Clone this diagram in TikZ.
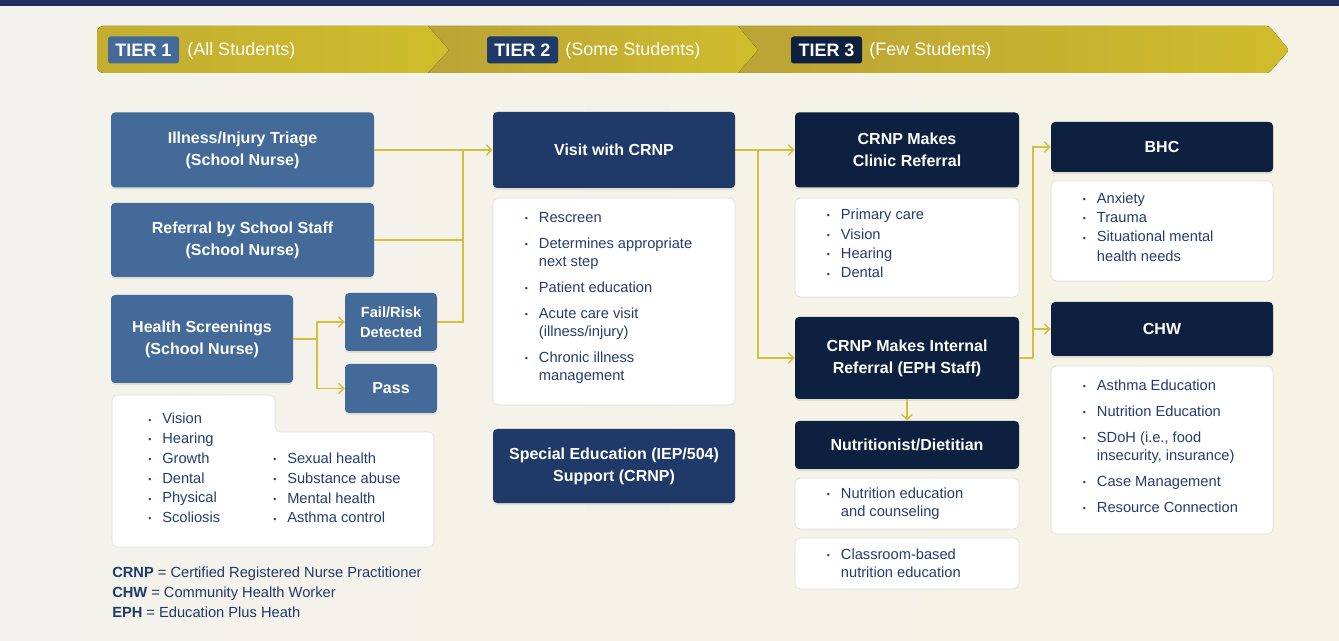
\documentclass[tikz,border=0pt]{standalone}
\usepackage{fontspec}
\usepackage{graphicx}
\setmainfont{Liberation Sans}
\usetikzlibrary{arrows.meta,shadows}

\newdimen\px \px=0.75pt

\definecolor{pagebg}{HTML}{F3F2EC}
\definecolor{pagebgR}{HTML}{F6F3E4}
\definecolor{topbar}{HTML}{1F2F5F}
\definecolor{goldL}{HTML}{D0BD2B}
\definecolor{goldD}{HTML}{BBA336}
\definecolor{goldline}{HTML}{D5C03D}
\definecolor{steel}{HTML}{436A99}
\definecolor{navytwo}{HTML}{1F3A69}
\definecolor{navythree}{HTML}{0D2040}
\definecolor{listblue}{HTML}{253D6E}
\definecolor{edgegray}{HTML}{E0DFDA}

\newcommand{\titlefont}{\fontsize{12}{16.5}\selectfont\bfseries}
\newcommand{\listfont}{\fontsize{11}{14.6}\selectfont}
\newcommand{\spacedfont}{\fontsize{11}{13.5}\selectfont}
\newcommand{\dotitem}{\makebox[14\px][l]{\raisebox{0.1ex}{\scalebox{0.6}{\textbullet}}}}
\newcommand{\hangon}{\hspace*{14\px}}

\begin{document}
\begin{tikzpicture}[
		x=0.75pt, y=-0.75pt,
		boxsize/.style 2 args = {
			minimum width  = #1\px,
			minimum height = #2\px
		},
		shade/.style = {
			drop shadow = {shadow xshift=0pt, shadow yshift=-1.5pt, opacity=0.18}
		},
		headbox/.style = {
			rounded corners = 3pt,
			text = white,
			font = \titlefont,
			align = center,
			inner sep = 0pt,
			shade
		},
		steelbox/.style = {headbox, fill=steel},
		navybox/.style  = {headbox, fill=navytwo},
		darkbox/.style  = {headbox, fill=navythree},
		listbox/.style = {
			fill = white,
			draw = edgegray,
			line width = 0.5pt,
			rounded corners = 4pt,
			inner sep = 0pt
		},
		listtext/.style = {
			text = listblue,
			font = \listfont,
			align = left,
			inner sep = 0pt,
			anchor = west
		},
		raised/.style = {yshift = 4\px},
		tierbadge/.style = {
			rounded corners = 2pt,
			text = white,
			font = \fontsize{13.5}{16}\selectfont\bfseries,
			boxsize = {71}{27},
			inner sep = 0pt
		},
		tiertext/.style = {
			text = white,
			font = \fontsize{13.5}{16}\selectfont,
			anchor = west,
			inner sep = 0pt
		},
		link/.style = {draw=goldline, line width=1.1pt},
		arr/.style  = {link, -{Straight Barb[length=4pt,width=8pt]}}
	]
	\useasboundingbox (0,0) rectangle (1339,641);
	\fill[left color=pagebg, right color=pagebgR] (0,0) rectangle (1339,641);
	\fill[topbar] (0,0) rectangle (1339,6);

	% tier banner
	\fill[left color=goldD, right color=goldL, rounded corners=2pt]
		(738,26) -- (1269,26) -- (1289,50) -- (1269,73) -- (738,73) -- cycle;
	\fill[left color=goldD, right color=goldL]
		(428,26) -- (738,26) -- (758,50) -- (738,73) -- (428,73) -- cycle;
	\fill[left color=goldD!60!goldL, right color=goldL]
		(428,26) [rounded corners=5pt] -- (97,26) -- (97,73) [sharp corners] -- (428,73) -- (449,50) -- cycle;
	\node[tierbadge, fill=steel]     (tierA) at (143.5,50) {TIER 1};
	\node[tiertext]                  (tierAtxt) at (187,51) {(All Students)};
	\node[tierbadge, fill=navytwo]   (tierB) at (522.5,50) {TIER 2};
	\node[tiertext]                  (tierBtxt) at (565,51) {(Some Students)};
	\node[tierbadge, fill=navythree] (tierC) at (826.5,50) {TIER 3};
	\node[tiertext]                  (tierCtxt) at (869,51) {(Few Students)};

	% tier 1 column
	\node[steelbox, boxsize={263}{75}] (triage)   at (242.5,150) {Illness/Injury Triage\\(School Nurse)};
	\node[steelbox, boxsize={263}{74}] (referral) at (242.5,240) {Referral by School Staff\\(School Nurse)};
	\node[steelbox, boxsize={182}{88}] (screen)   at (202,339)   {Health Screenings\\(School Nurse)};
	\node[steelbox, boxsize={92}{58}, font=\fontsize{11}{15}\selectfont\bfseries] (fail) at (391,322) {Fail/Risk\\Detected};
	\node[steelbox, boxsize={92}{49}] (pass) at (391,388.5) {Pass};

	\filldraw[fill=white, draw=edgegray, line width=0.5pt, rounded corners=4pt]
		(112,395) -- (275,395) -- (275,432) -- (434,432) -- (434,547) -- (112,547) -- cycle;
	\node[listtext, font=\fontsize{11}{14.8}\selectfont] (screenA) at (148,468) {%
		\dotitem Vision\\ \dotitem Hearing\\ \dotitem Growth\\
		\dotitem Dental\\ \dotitem Physical\\ \dotitem Scoliosis};
	\node[listtext, font=\fontsize{11}{14.8}\selectfont] (screenB) at (273,488) {%
		\dotitem Sexual health\\ \dotitem Substance abuse\\
		\dotitem Mental health\\ \dotitem Asthma control};

	\node[listtext, text=navytwo, font=\fontsize{11}{15}\selectfont] (legend) at (112,592) {%
		\textbf{CRNP} = Certified Registered Nurse Practitioner\\
		\textbf{CHW} = Community Health Worker\\
		\textbf{EPH} = Education Plus Heath};

	% tier 2 column
	\node[navybox, boxsize={242}{76}]  (visit)     at (614,150)   {Visit with CRNP};
	\node[listbox, boxsize={242}{207}] (visitlist) at (614,301.5) {};
	\node[listtext, raised, font=\spacedfont] (visittxt) at ([xshift=32\px]visitlist.west) {%
		\dotitem Rescreen\\[6pt]
		\dotitem Determines appropriate\\ \hangon next step\\[6pt]
		\dotitem Patient education\\[6pt]
		\dotitem Acute care visit\\ \hangon (illness/injury)\\[6pt]
		\dotitem Chronic illness\\ \hangon management};
	\node[navybox, boxsize={242}{74}]  (sped) at (614,466) {Special Education (IEP/504)\\Support (CRNP)};

	% tier 3 column
	\node[darkbox, boxsize={224}{75}] (clinic)     at (907,150)   {CRNP Makes\\Clinic Referral};
	\node[listbox, boxsize={224}{99}] (cliniclist) at (907,247.5) {};
	\node[listtext, raised] (clinictxt) at ([xshift=32\px]cliniclist.west) {%
		\dotitem Primary care\\ \dotitem Vision\\ \dotitem Hearing\\ \dotitem Dental};
	\node[darkbox, boxsize={224}{82}] (internal)   at (907,358)   {CRNP Makes Internal\\Referral (EPH Staff)};
	\node[darkbox, boxsize={224}{48}] (nutri)      at (907,445)   {Nutritionist/Dietitian};
	\node[listbox, boxsize={224}{51}] (nutrilistA) at (907,503.5) {};
	\node[listtext, font=\spacedfont] (nutritxtA) at ([xshift=32\px]nutrilistA.west) {%
		\dotitem Nutrition education\\ \hangon and counseling};
	\node[listbox, boxsize={224}{51}] (nutrilistB) at (907,563.5) {};
	\node[listtext, font=\spacedfont] (nutritxtB) at ([xshift=32\px]nutrilistB.west) {%
		\dotitem Classroom-based\\ \hangon nutrition education};

	% referral targets
	\node[darkbox, boxsize={222}{50}]  (bhc)     at (1162,147) {BHC};
	\node[listbox, boxsize={222}{100}] (bhclist) at (1162,231) {};
	\node[listtext, raised] (bhctxt) at ([xshift=32\px]bhclist.west) {%
		\dotitem Anxiety\\ \dotitem Trauma\\ \dotitem Situational mental\\ \hangon health needs};
	\node[darkbox, boxsize={222}{54}]  (chw)     at (1162,329) {CHW};
	\node[listbox, boxsize={222}{168}] (chwlist) at (1162,450) {};
	\node[listtext, raised, font=\spacedfont] (chwtxt) at ([xshift=32\px]chwlist.west) {%
		\dotitem Asthma Education\\[6pt]
		\dotitem Nutrition Education\\[6pt]
		\dotitem SDoH (i.e., food\\ \hangon insecurity, insurance)\\[6pt]
		\dotitem Case Management\\[6pt]
		\dotitem Resource Connection};

	% connectors
	\coordinate (jA) at (463,150);
	\coordinate (jB) at (317,339);
	\coordinate (jC) at (758,150);
	\coordinate (jD) at (1033,358);
	\draw[arr]  (triage.east) -- (visit.west);
	\draw[link] (referral.east) -| (jA);
	\draw[link] (fail.east) -| (jA);
	\draw[link] (screen.east) -- (jB);
	\draw[arr]  (jB) |- (fail.west);
	\draw[arr]  (jB) |- (pass.west);
	\draw[arr]  (visit.east) -- (clinic.west);
	\draw[arr]  (jC) |- (internal.west);
	\draw[arr]  (internal.south) -- (nutri.north);
	\draw[link] (internal.east) -- (jD);
	\draw[arr]  (jD) |- (bhc.west);
	\draw[arr]  (jD) |- (chw.west);
\end{tikzpicture}
\end{document}
